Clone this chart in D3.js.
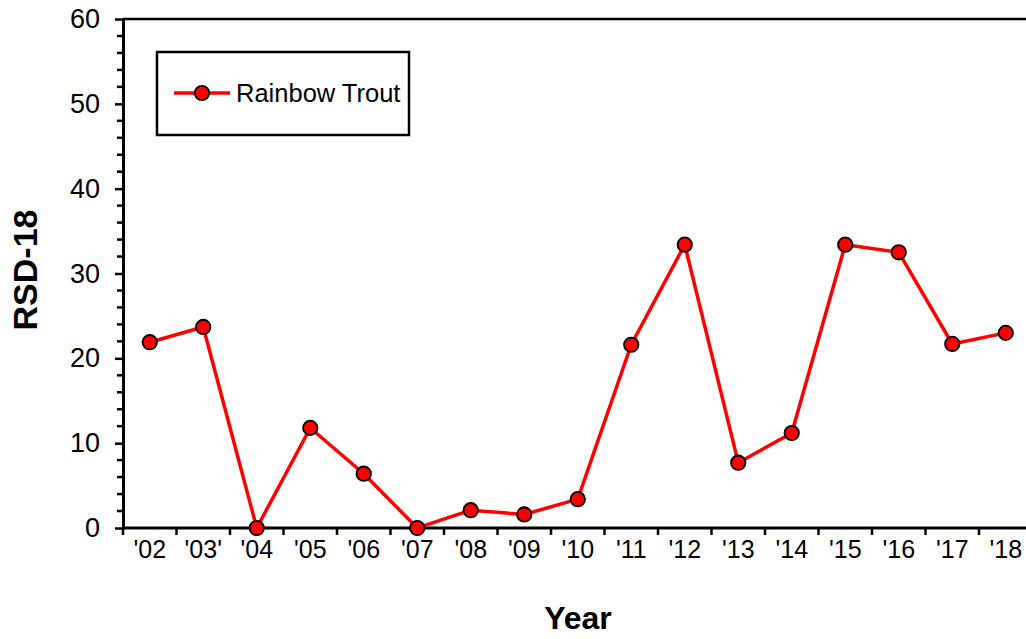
<!DOCTYPE html>
<html><head><meta charset="utf-8">
<script src="https://cdn.jsdelivr.net/npm/d3@7"></script>
<style>body{margin:0;background:#fff;} svg{display:block;font-family:"Liberation Sans",Arial,sans-serif;}</style>
</head><body>
<svg id="chart" width="1026" height="639"></svg>
<script>
const years = ["'02","'03'","'04","'05","'06","'07","'08","'09","'10","'11","'12","'13","'14","'15","'16","'17","'18"];
const rsd18 = [21.9,23.7,0,11.8,6.4,0,2.1,1.6,3.4,21.6,33.4,7.7,11.2,33.4,32.5,21.7,23.0];
const yTicks = [0,10,20,30,40,50,60];
const seriesName = "Rainbow Trout";

(function(){
const svg = d3.select("#chart");
const pL = 123, pT = 19, pB = 528, pR = 123 + 17*53.5;
const x = d3.scaleBand().domain(years).range([pL, pR]);
const y = d3.scaleLinear().domain([0,60]).range([pB, pT]);

svg.append("path").attr("d",`M${pL},${pT}H${pR}V${pB}`).attr("fill","none").attr("stroke","#000").attr("stroke-width",2.5);

const yAxis = svg.append("g").attr("transform",`translate(${pL},0)`)
  .call(d3.axisLeft(y).tickValues(yTicks).tickSize(8).tickPadding(15).tickSizeOuter(0));
yAxis.select(".domain").attr("stroke-width",3);
yAxis.selectAll(".tick line").attr("stroke-width",2.5);
yAxis.selectAll("text").attr("font-size",27).attr("fill","#000").attr("font-family",null);
const minor = d3.range(0,61,2).filter(v=>v%10!==0);
yAxis.selectAll(".minor").data(minor).enter().append("line")
  .attr("x1",-6).attr("x2",0).attr("y1",d=>y(d)).attr("y2",d=>y(d)).attr("stroke","#000").attr("stroke-width",2.5);

const xAxis = svg.append("g").attr("transform",`translate(0,${pB})`);
xAxis.append("line").attr("x1",pL).attr("x2",pR).attr("stroke","#000").attr("stroke-width",3);
const boundaries = years.map(d=>x(d)).concat([pR]);
xAxis.selectAll(".xt").data(boundaries).enter().append("line")
  .attr("x1",d=>d).attr("x2",d=>d).attr("y1",0).attr("y2",7).attr("stroke","#000").attr("stroke-width",2.5);
xAxis.selectAll(".xl").data(years).enter().append("text")
  .attr("x",d=>x(d)+x.bandwidth()/2).attr("y",30).attr("text-anchor","middle")
  .attr("font-size",25).attr("fill","#000").text(d=>d);

svg.append("text").attr("x",578).attr("y",629).attr("text-anchor","middle")
  .attr("font-size",32).attr("font-weight","bold").text("Year");
svg.append("text").attr("transform","translate(37,270) rotate(-90)").attr("text-anchor","middle")
  .attr("font-size",34).attr("font-weight","bold").text("RSD-18");

const line = d3.line().x((d,i)=>x(years[i])+x.bandwidth()/2).y(d=>y(d));
svg.append("path").datum(rsd18).attr("d",line).attr("fill","none").attr("stroke","#ff0000").attr("stroke-width",3.5);
svg.selectAll(".pt").data(rsd18).enter().append("circle")
  .attr("cx",(d,i)=>x(years[i])+x.bandwidth()/2).attr("cy",d=>y(d)).attr("r",7.2)
  .attr("fill","#ff0000").attr("stroke","#000").attr("stroke-width",1.8);

const lg = svg.append("g");
lg.append("rect").attr("x",157).attr("y",52).attr("width",252).attr("height",83)
  .attr("fill","#fff").attr("stroke","#000").attr("stroke-width",2.5);
lg.append("line").attr("x1",174).attr("x2",230).attr("y1",93).attr("y2",93).attr("stroke","#ff0000").attr("stroke-width",3.5);
lg.append("circle").attr("cx",202).attr("cy",93).attr("r",7.2).attr("fill","#ff0000").attr("stroke","#000").attr("stroke-width",1.8);
lg.append("text").attr("x",236).attr("y",102).attr("font-size",25.5).attr("fill","#000").text(seriesName);
})();
</script>
</body></html>
